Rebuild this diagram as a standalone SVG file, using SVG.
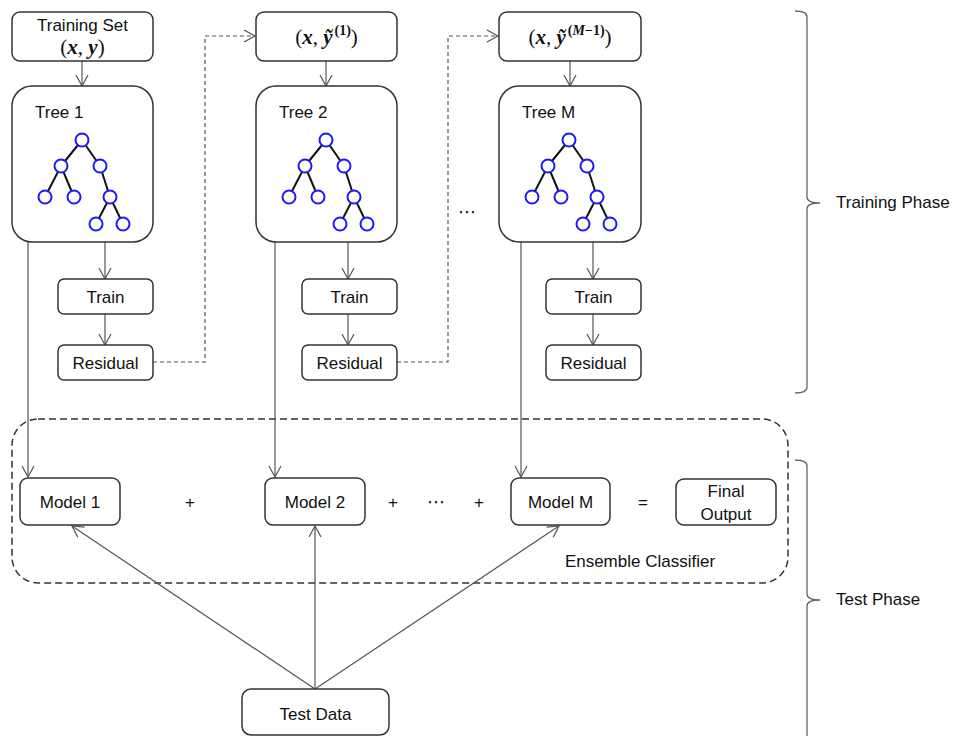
<svg xmlns="http://www.w3.org/2000/svg" width="955" height="736" viewBox="0 0 955 736">
<style>
.box{fill:#fff;stroke:#333;stroke-width:1.5}
.t{font-family:"Liberation Sans",Arial,sans-serif;font-size:17px;fill:#111}
.c{text-anchor:middle}
.m{font-family:"Liberation Serif","Times New Roman",serif;font-size:21px;fill:#111;text-anchor:middle}
.bi{font-weight:bold;font-style:italic}
.sup{font-size:14px;font-weight:bold}
.ln{fill:none;stroke:#555;stroke-width:1.2}
.dash{fill:none;stroke:#555;stroke-width:1.2;stroke-dasharray:4,3}
.edge{stroke:#111;stroke-width:2}
.nd{fill:#fff;stroke:#1a1aff;stroke-width:2}
.brace{fill:none;stroke:#666;stroke-width:1.3}
.dots{font-family:"DejaVu Sans",sans-serif;font-size:18px;fill:#111;text-anchor:middle}
</style>
<defs>
<marker id="ah" markerWidth="14" markerHeight="14" refX="12" refY="7" orient="auto" markerUnits="userSpaceOnUse">
<path d="M1,1 L12,7 L1,13" fill="none" stroke="#555" stroke-width="1.2"/>
</marker>
<g id="tree">
<line class="edge" x1="0" y1="0" x2="-21" y2="26"/>
<line class="edge" x1="0" y1="0" x2="18" y2="26"/>
<line class="edge" x1="-21" y1="26" x2="-37" y2="57"/>
<line class="edge" x1="-21" y1="26" x2="-8" y2="57"/>
<line class="edge" x1="18" y1="26" x2="28" y2="57"/>
<line class="edge" x1="28" y1="57" x2="14" y2="84"/>
<line class="edge" x1="28" y1="57" x2="41" y2="84"/>
<circle class="nd" cx="0" cy="0" r="6.5"/>
<circle class="nd" cx="-21" cy="26" r="6.5"/>
<circle class="nd" cx="18" cy="26" r="6.5"/>
<circle class="nd" cx="-37" cy="57" r="6.5"/>
<circle class="nd" cx="-8" cy="57" r="6.5"/>
<circle class="nd" cx="28" cy="57" r="6.5"/>
<circle class="nd" cx="14" cy="84" r="6.5"/>
<circle class="nd" cx="41" cy="84" r="6.5"/>
</g>
</defs>
<rect width="955" height="736" fill="#fff"/>

<g id="ensemble">
<rect x="12" y="419" width="776" height="164" rx="26" fill="none" stroke="#333" stroke-width="1.5" stroke-dasharray="7,4"/>
<text class="t c" x="640" y="567">Ensemble Classifier</text>
</g>

<g id="connectors">
<line class="ln" x1="82" y1="61" x2="82" y2="86" marker-end="url(#ah)"/>
<line class="ln" x1="326" y1="61" x2="326" y2="86" marker-end="url(#ah)"/>
<line class="ln" x1="570" y1="61" x2="570" y2="86" marker-end="url(#ah)"/>
<line class="ln" x1="105" y1="242" x2="105" y2="279" marker-end="url(#ah)"/>
<line class="ln" x1="105" y1="314" x2="105" y2="345" marker-end="url(#ah)"/>
<line class="ln" x1="348" y1="242" x2="348" y2="279" marker-end="url(#ah)"/>
<line class="ln" x1="348" y1="314" x2="348" y2="345" marker-end="url(#ah)"/>
<line class="ln" x1="593" y1="242" x2="593" y2="279" marker-end="url(#ah)"/>
<line class="ln" x1="593" y1="314" x2="593" y2="345" marker-end="url(#ah)"/>
<polyline class="dash" points="153,362 205,362 205,36 255,36" marker-end="url(#ah)"/>
<polyline class="dash" points="397,362 448,362 448,36 498,36" marker-end="url(#ah)"/>
<line class="ln" x1="28" y1="242" x2="28" y2="477" marker-end="url(#ah)"/>
<line class="ln" x1="275" y1="242" x2="275" y2="477" marker-end="url(#ah)"/>
<line class="ln" x1="521" y1="242" x2="521" y2="477" marker-end="url(#ah)"/>
<line class="ln" x1="315" y1="689" x2="72" y2="526" marker-end="url(#ah)"/>
<line class="ln" x1="315" y1="689" x2="315" y2="526" marker-end="url(#ah)"/>
<line class="ln" x1="315" y1="689" x2="559" y2="526" marker-end="url(#ah)"/>
</g>

<g id="training-set">
<rect class="box" x="12" y="12" width="141" height="49" rx="8"/>
<text class="t c" x="82.5" y="31">Training Set</text>
<text class="m" x="82.5" y="54">(<tspan class="bi">x</tspan>, <tspan class="bi">y</tspan>)</text>
</g>
<g id="input-2">
<rect class="box" x="256" y="12" width="141" height="49" rx="8"/>
<text class="m" x="326.5" y="44">(<tspan class="bi">x</tspan>, <tspan class="bi">ỹ</tspan><tspan class="sup" dx="2" dy="-9">(1)</tspan><tspan dy="9">)</tspan></text>
</g>
<g id="input-M">
<rect class="box" x="499" y="12" width="142" height="49" rx="8"/>
<text class="m" x="570" y="44">(<tspan class="bi">x</tspan>, <tspan class="bi">ỹ</tspan><tspan class="sup" dx="2" dy="-9">(</tspan><tspan class="sup" font-style="italic">M</tspan><tspan class="sup">−1)</tspan><tspan dy="9">)</tspan></text>
</g>

<g id="tree-1">
<rect class="box" x="12" y="86" width="141" height="156" rx="20"/>
<text class="t" x="35" y="118">Tree 1</text>
<use href="#tree" x="82" y="140"/>
</g>
<g id="tree-2">
<rect class="box" x="256" y="86" width="141" height="156" rx="20"/>
<text class="t" x="279" y="118">Tree 2</text>
<use href="#tree" x="326" y="140"/>
</g>
<g id="tree-M">
<rect class="box" x="499" y="86" width="142" height="156" rx="20"/>
<text class="t" x="522" y="118">Tree M</text>
<use href="#tree" x="569" y="140"/>
</g>
<text class="dots" x="467" y="218">⋯</text>

<g id="train-1"><rect class="box" x="58" y="279" width="95" height="35" rx="6"/><text class="t c" x="105.5" y="303">Train</text></g>
<g id="residual-1"><rect class="box" x="58" y="345" width="95" height="35" rx="6"/><text class="t c" x="105.5" y="369">Residual</text></g>
<g id="train-2"><rect class="box" x="302" y="279" width="95" height="35" rx="6"/><text class="t c" x="349.5" y="303">Train</text></g>
<g id="residual-2"><rect class="box" x="302" y="345" width="95" height="35" rx="6"/><text class="t c" x="349.5" y="369">Residual</text></g>
<g id="train-M"><rect class="box" x="546" y="279" width="95" height="35" rx="6"/><text class="t c" x="593.5" y="303">Train</text></g>
<g id="residual-M"><rect class="box" x="546" y="345" width="95" height="35" rx="6"/><text class="t c" x="593.5" y="369">Residual</text></g>

<g id="model-1"><rect class="box" x="20" y="478" width="100" height="47" rx="8"/><text class="t c" x="70" y="508">Model 1</text></g>
<g id="model-2"><rect class="box" x="265" y="478" width="100" height="47" rx="8"/><text class="t c" x="315" y="508">Model 2</text></g>
<g id="model-M"><rect class="box" x="511" y="478" width="99" height="47" rx="8"/><text class="t c" x="560.5" y="508">Model M</text></g>
<g id="final-output"><rect class="box" x="676" y="479" width="100" height="46" rx="8"/><text class="t c" x="726" y="497">Final</text><text class="t c" x="726" y="520">Output</text></g>
<text class="t c" x="190" y="508">+</text>
<text class="t c" x="393" y="508">+</text>
<text class="dots" x="436" y="508">⋯</text>
<text class="t c" x="479" y="508">+</text>
<text class="t c" x="643" y="508">=</text>

<g id="test-data"><rect class="box" x="242" y="689" width="147" height="46" rx="9"/><text class="t c" x="315.5" y="720">Test Data</text></g>

<g id="training-phase">
<path class="brace" d="M795,11 Q807,11 807,17 V197 Q807,203 820,203 Q807,203 807,209 V387 Q807,393 795,393"/>
<text class="t" x="836" y="208">Training Phase</text>
</g>
<g id="test-phase">
<path class="brace" d="M795,460 Q807,460 807,466 V594 Q807,600 820,600 Q807,600 807,606 V736"/>
<text class="t" x="836" y="605">Test Phase</text>
</g>
</svg>
